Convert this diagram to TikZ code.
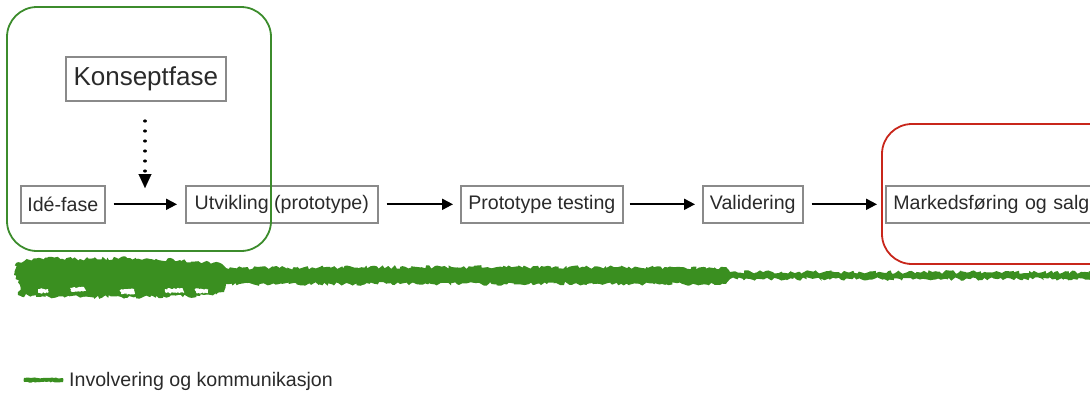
\documentclass[tikz,border=0pt]{standalone}
\usepackage{fontspec}
\setmainfont{Liberation Sans}
\usetikzlibrary{arrows.meta,decorations.pathmorphing}
\definecolor{brush}{HTML}{3A8F20}
\definecolor{txt}{HTML}{2A2A2A}
\definecolor{boxline}{HTML}{8A8A8A}
\definecolor{grn}{HTML}{3C8C2C}
\definecolor{rd}{HTML}{C8261B}
\tikzset{
  stage/.style={draw=boxline, line width=1.6pt, text=txt, font=\fontsize{19.6}{21}\selectfont, inner sep=0pt, anchor=north west},
  flow/.style={-{Triangle[length=11pt,width=11pt]}, line width=2pt, black},
  rough/.style={fill=brush, decorate, decoration={random steps, segment length=2.5pt, amplitude=1.8pt}},
  hole/.style={fill=white, decorate, decoration={random steps, segment length=1.5pt, amplitude=0.8pt}},
  phase/.style={line width=1.8pt, rounded corners=30pt},
}
\begin{document}
\begin{tikzpicture}[x=1pt,y=-1pt]
\useasboundingbox (0,0) rectangle (1090,394);
\pgfmathsetseed{7}
% stage boxes
\node[stage, minimum width=160pt, minimum height=44pt, font=\fontsize{26}{28}\selectfont] (konsept) at (65,56) {Konseptfase};
\node[stage, minimum width=84pt, minimum height=37pt] (ide) at (20,185) {Idé-fase};
\node[stage, minimum width=192pt, minimum height=37pt] (utv) at (185,185) {Utvikling (prototype)};
\node[stage, minimum width=162pt, minimum height=37pt] (test) at (460,185) {Prototype testing};
\node[stage, minimum width=100pt, minimum height=37pt] (val) at (702,185) {Validering};
\node[stage, minimum width=220pt, minimum height=37pt, text width=205pt, align=left, inner xsep=6pt] (mark) at (885,185) {Markedsføring og salg};
% arrows
\draw[flow] ([xshift=8pt]ide.east) -- ([xshift=-8pt]utv.west);
\draw[flow] ([xshift=8pt]utv.east) -- ([xshift=-7pt]test.west);
\draw[flow] ([xshift=6pt]test.east) -- ([xshift=-7pt]val.west);
\draw[flow] ([xshift=8pt]val.east) -- ([xshift=-8pt]mark.west);
\coordinate (dtop) at (145,121);
\coordinate (dbot) at (145,188);
\coordinate (dmid) at (145,174);
\draw[line width=3.2pt, line cap=round, dash pattern=on 0.01pt off 10pt, black] (dtop) -- (dmid);
\draw[-{Triangle[length=14pt,width=13pt]}, line width=0.1pt, black] (dmid) -- (dbot);
% phase frames
\draw[phase, draw=grn] (7,7) rectangle (271,251);
\draw[phase, draw=rd] (882,124) rectangle (1120,264);
% brush stroke
\fill[rough] (16,263) -- (40,258) -- (80,259) -- (130,258) -- (180,260) -- (222,264) -- (226,268) -- (400,267) -- (600,267) -- (727,268) -- (730,272) -- (900,272) -- (1092,272) -- (1092,279) -- (900,279) -- (730,279) -- (726,284) -- (600,284) -- (400,284) -- (226,284) -- (224,292) -- (200,296) -- (150,297) -- (90,297) -- (40,297) -- (18,295) -- (20,285) -- (14,275) -- cycle;
\fill[hole] (70,288) -- (84,287) -- (86,291) -- (72,292) -- cycle;
\fill[hole] (120,290) -- (134,289) -- (135,294) -- (121,294) -- cycle;
\fill[hole] (165,289) -- (182,288) -- (184,293) -- (166,293) -- cycle;
\fill[hole] (195,289) -- (208,289) -- (208,293) -- (196,293) -- cycle;
\fill[hole] (38,289) -- (48,289) -- (48,293) -- (38,293) -- cycle;
% legend
\coordinate (la) at (24,380);
\coordinate (lb) at (63,380);
\fill[fill=brush, decorate, decoration={random steps, segment length=2pt, amplitude=0.6pt}] (24,378) -- (63,378) -- (63,382) -- (24,382) -- cycle;
\node[anchor=west, text=txt, font=\fontsize{19.6}{21}\selectfont, inner sep=0pt] (leg) at (69,381) {Involvering og kommunikasjon};
\end{tikzpicture}
\end{document}
